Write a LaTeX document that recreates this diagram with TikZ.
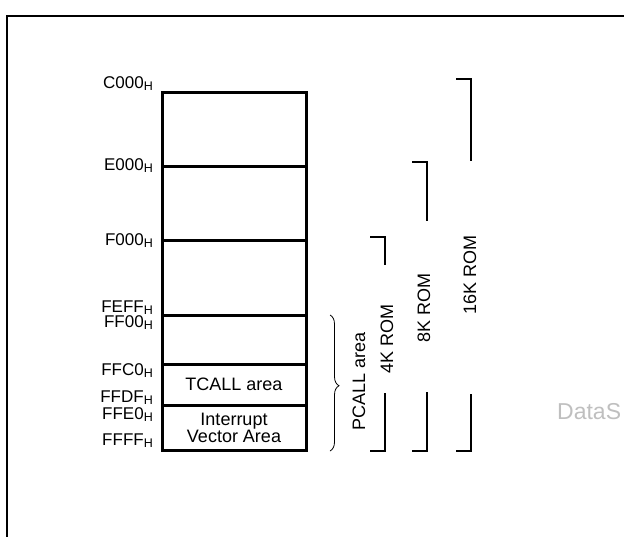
\documentclass[tikz,border=0pt]{standalone}
\usepackage{fontspec}
\setmainfont{Liberation Sans}
\usetikzlibrary{decorations.pathreplacing}
\newcommand\hsub{\raisebox{-2pt}{\fontsize{12.5}{12.5}\selectfont H}}
\begin{document}
\begin{tikzpicture}[x=1pt,y=-1pt,
  addr/.style={anchor=base east, inner sep=0pt, font=\fontsize{17}{17}\selectfont},
  region/.style={draw, line width=3pt, minimum width=144pt, inner sep=0pt, outer sep=0pt,
    align=center, font=\fontsize{18}{17}\selectfont},
  romtext/.style={anchor=base, rotate=90, inner sep=0pt, font=\fontsize{18}{18}\selectfont},
  bracket/.style={line width=1.2pt},
]
\useasboundingbox (0,0) rectangle (624,536);
\clip (0,0) rectangle (624,536);
% frame
\coordinate (f1) at (7,545);
\coordinate (f2) at (7,16);
\coordinate (f3) at (640,16);
\draw[line width=2pt] (f1) -- (f2) -- (f3);

% memory regions
\node[region, minimum height=74pt]   (r1) at (234,129) {};
\node[region, minimum height=74.5pt] (r2) at (234,203.25) {};
\node[region, minimum height=75pt]   (r3) at (234,278) {};
\node[region, minimum height=48.5pt] (r4) at (234,339.75) {};
\node[region, minimum height=41pt]   (r5) at (234,384.5) {TCALL area};
\node[region, minimum height=45pt]   (r6) at (234,427.5) {Interrupt\\Vector Area};

% address labels
\node[addr] (aC000) at (153,88)    {C000\hsub};
\node[addr] (aE000) at (153,170)   {E000\hsub};
\node[addr] (aF000) at (153,245)   {F000\hsub};
\node[addr] (aFEFF) at (153,312) {FEFF\hsub};
\node[addr] (aFF00) at (153,327.5)   {FF00\hsub};
\node[addr] (aFFC0) at (153,375)   {FFC0\hsub};
\node[addr] (aFFDF) at (153,402.5) {FFDF\hsub};
\node[addr] (aFFE0) at (153,419)   {FFE0\hsub};
\node[addr] (aFFFF) at (153,445.5) {FFFF\hsub};

% brace
\coordinate (b1) at (330,315);
\coordinate (b2) at (330,451);
\draw[decorate, decoration={brace, amplitude=9pt, aspect=0.52}, line width=0.8pt] (b1) -- (b2);

% rotated texts
\node[romtext] (pcall) at (365,381)   {PCALL area};
\node[romtext] (k4)    at (393,339)   {4K ROM};
\node[romtext] (k8)    at (430,308)   {8K ROM};
\node[romtext] (k16)   at (476,274.5) {16K ROM};

% brackets
\coordinate (p4a) at (370,237); \coordinate (p4b) at (385,237); \coordinate (p4c) at (385,265);
\coordinate (p4d) at (385,393); \coordinate (p4e) at (385,451); \coordinate (p4f) at (370,451);
\draw[bracket] (p4a) -- (p4b) -- (p4c);
\draw[bracket] (p4d) -- (p4e) -- (p4f);
\coordinate (p8a) at (412,162); \coordinate (p8b) at (427,162); \coordinate (p8c) at (427,221);
\coordinate (p8d) at (427,392); \coordinate (p8e) at (427,451); \coordinate (p8f) at (412,451);
\draw[bracket] (p8a) -- (p8b) -- (p8c);
\draw[bracket] (p8d) -- (p8e) -- (p8f);
\coordinate (p16a) at (456,79);  \coordinate (p16b) at (471,79);  \coordinate (p16c) at (471,161);
\coordinate (p16d) at (471,394); \coordinate (p16e) at (471,451); \coordinate (p16f) at (456,451);
\draw[bracket] (p16a) -- (p16b) -- (p16c);
\draw[bracket] (p16d) -- (p16e) -- (p16f);

% watermark
\node[anchor=base west, inner sep=0pt, text=black!25, font=\fontsize{23}{23}\selectfont] (wm) at (557,419) {DataS};
\end{tikzpicture}
\end{document}
